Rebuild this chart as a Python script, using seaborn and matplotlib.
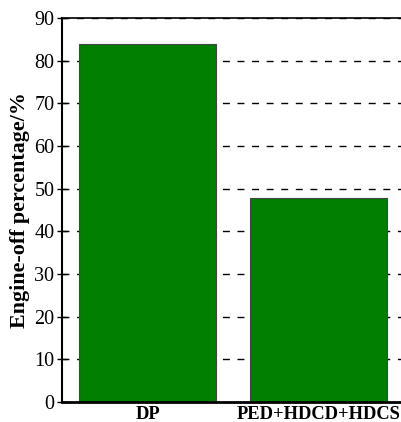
import matplotlib
matplotlib.use("Agg")
import matplotlib.pyplot as plt
import seaborn as sns
import pandas as pd

categories = ["DP", "PED+HDCD+HDCS"]
engine_off = [83.8, 47.7]
y_ticks = [0, 10, 20, 30, 40, 50, 60, 70, 80, 90]

sns.set_theme(style="white")
plt.rcParams["font.family"] = ["Liberation Serif", "DejaVu Serif"]
plt.rcParams["text.color"] = "black"
plt.rcParams["axes.labelcolor"] = "black"
plt.rcParams["xtick.color"] = "black"
plt.rcParams["ytick.color"] = "black"

df = pd.DataFrame({"scheme": categories, "pct": engine_off})

fig = plt.figure(figsize=(4.01, 4.22), dpi=100)
ax = fig.add_axes([62 / 401, 20 / 422, 342 / 401, 384 / 422])

ax.set_axisbelow(True)
for t in y_ticks[1:]:
    ax.axhline(t, color="black", lw=1.0, ls=(0, (5, 5.5)), zorder=0)

sns.barplot(data=df, x="scheme", y="pct", color="#007f00", saturation=1,
            width=0.8, edgecolor="#444444", linewidth=0.8, ax=ax, zorder=2)

ax.set_xlim(-0.5, 1.5)
ax.set_ylim(0, 90)
ax.set_yticks(y_ticks)
ax.set_xlabel("")
ax.set_ylabel("Engine-off percentage/%", fontsize=15.8, fontweight="bold",
              labelpad=3, color="black")
ax.tick_params(axis="y", labelsize=14.5, direction="inout", length=7, width=1,
               color="black", labelcolor="black", left=True, pad=2)
ax.tick_params(axis="x", labelsize=13.3, length=0, pad=3, labelcolor="black")
for lab in ax.get_xticklabels():
    lab.set_fontweight("bold")

for side in ["left", "top", "bottom", "right"]:
    ax.spines[side].set_color("black")
ax.spines["left"].set_linewidth(1.5)
ax.spines["bottom"].set_linewidth(2.0)
ax.spines["top"].set_linewidth(1.2)
ax.spines["right"].set_visible(False)

fig.savefig("out.png", dpi=100)
